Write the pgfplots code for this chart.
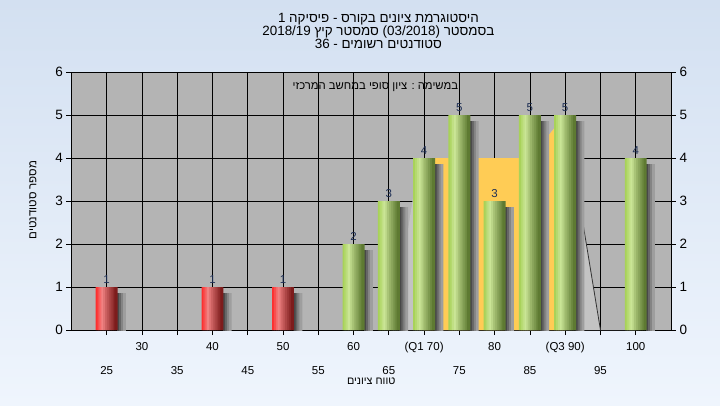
\documentclass[border=0pt]{standalone}
\usepackage{pgfplots}
\pgfplotsset{compat=1.18}
\usepackage{fontspec}
\setmainfont{Liberation Sans}
\newfontfamily\hebfont[Script=Hebrew]{Liberation Sans}
\TeXXeTstate=1

\definecolor{bgtop}{HTML}{D3E0F1}
\definecolor{bgbot}{HTML}{EFF5FD}
\definecolor{plotbg}{HTML}{B4B4B4}
\definecolor{areagray}{HTML}{C3C3C3}
\definecolor{quartile}{HTML}{FFCC55}
\definecolor{gL}{HTML}{A2CF4E}
\definecolor{gH}{HTML}{CAE596}
\definecolor{gD}{HTML}{57732C}
\definecolor{rL}{HTML}{FF2222}
\definecolor{rH}{HTML}{F08282}
\definecolor{rD}{HTML}{761515}
\definecolor{labelcol}{HTML}{1E2F55}
\definecolor{shadowcol}{HTML}{3C3C3C}

% cylinder look: 11 vertical stripes per bar
\colorlet{g0}{gH!15!gL}  \colorlet{r0}{rH!15!rL}
\colorlet{g1}{gH!45!gL}  \colorlet{r1}{rH!45!rL}
\colorlet{g2}{gH!75!gL}  \colorlet{r2}{rH!75!rL}
\colorlet{g3}{gH}        \colorlet{r3}{rH}
\colorlet{g4}{gD!13!gH}  \colorlet{r4}{rD!13!rH}
\colorlet{g5}{gD!29!gH}  \colorlet{r5}{rD!29!rH}
\colorlet{g6}{gD!42!gH}  \colorlet{r6}{rD!42!rH}
\colorlet{g7}{gD!55!gH}  \colorlet{r7}{rD!55!rH}
\colorlet{g8}{gD!67!gH}  \colorlet{r8}{rD!67!rH}
\colorlet{g9}{gD!80!gH}  \colorlet{r9}{rD!80!rH}
\colorlet{g10}{gD!94!gH} \colorlet{r10}{rD!94!rH}
\colorlet{s0}{shadowcol!90!plotbg}
\colorlet{s1}{shadowcol!65!plotbg}
\colorlet{s2}{shadowcol!40!plotbg}
\colorlet{s3}{shadowcol!18!plotbg}

\pgfplotstableread{
x y
25 1
40 1
50 1
}\failing

\pgfplotstableread{
x y
60 2
65 3
70 4
75 5
80 3
85 5
90 5
100 4
}\passing

\pgfplotstableread{
x y
25 1
40 1
50 1
60 2
65 3
70 4
75 5
80 3
85 5
90 5
100 4
}\allbars

\begin{document}
\begin{tikzpicture}[x=1pt,y=1pt]
\fill[top color=bgtop, bottom color=bgbot] (0,0) rectangle (720,405);

\begin{axis}[
  at={(71.4pt,75pt)}, anchor=south west,
  scale only axis, width=599.6pt, height=258pt,
  xmin=20, xmax=105, ymin=0, ymax=6,
  axis background/.style={fill=plotbg},
  xtick={30,40,...,100},
  xticklabels={30,40,50,60,(Q1 70),80,(Q3 90),100},
  extra x ticks={25,35,...,95},
  extra x tick labels={25,35,45,55,65,75,85,95},
  extra x tick style={grid=major, major grid style={black, line width=0.8pt},
     xticklabel style={yshift=-24pt}},
  xticklabel style={yshift=-4pt, font=\fontsize{11.5}{13}\selectfont},
  yticklabel style={font=\fontsize{13.5}{15}\selectfont},
  ytick={0,...,6},
  xtick pos=bottom, ytick pos=left,
  grid=major, major grid style={black, line width=0.8pt},
  tick align=outside, major tick length=5pt,
  tick style={black, line width=0.8pt},
  axis line style={black, line width=0.8pt},
  /pgf/number format/assume math mode=true,
  xlabel={\hebfont\beginR טווח ציונים\endR},
  xlabel style={at={(axis description cs:0.5,0)}, anchor=center, yshift=-51pt,
     font=\fontsize{10.8}{13}\selectfont},
  title={\hebfont\beginR היסטוגרמת ציונים בקורס - פיסיקה \beginL1\endL\endR\\
         \hebfont\beginR בסמסטר \beginL(03/2018)\endL{} סמסטר קיץ \beginL2018/19\endL\endR\\
         \hebfont\beginR סטודנטים רשומים - \beginL36\endL\endR},
  title style={at={(axis description cs:0.512,1)}, anchor=center, yshift=35pt,
     align=center, font=\fontsize{13.4}{13}\selectfont},
]
% shaded band of the frequency polygon, gray outside the quartiles
\addplot[fill=areagray, draw=none] coordinates {
  (65.5,0) (69.3,4) (85,4) (90,5) (95,0) (100,0)
} \closedcycle;
\addplot[fill=quartile, draw=none] coordinates {
  (70,0) (70,4) (85,4) (90,5) (90,0)
} \closedcycle;
\addplot[black!80, line width=0.8pt] coordinates {(90,5) (95,0)};

% bar shadows
\pgfplotsinvokeforeach{0,...,3}{
  \addplot[ybar, bar width=0.4, bar shift={1.69+0.28*#1}, yshift=-6pt,
    draw=none, fill=s#1] table[x=x, y=y] {\allbars};
}
% bars, drawn as overlapping stripes
\pgfplotsinvokeforeach{0,...,10}{
  \addplot[ybar, bar width=0.45, bar shift={(#1-5)*0.2659}, draw=none, fill=r#1]
    table[x=x, y=y] {\failing};
  \addplot[ybar, bar width=0.45, bar shift={(#1-5)*0.2659}, draw=none, fill=g#1]
    table[x=x, y=y] {\passing};
}
% value labels
\addplot[draw=none, nodes near coords,
  nodes near coords style={font=\fontsize{11.5}{13}\selectfont, color=labelcol,
     anchor=south, inner sep=3pt}]
  table[x=x, y=y] {\allbars};

\node[font=\fontsize{11.3}{13}\selectfont] at (rel axis cs:0.507,0.94)
  {\hebfont\beginR במשימה : ציון סופי במחשב המרכזי\endR};
\end{axis}

\begin{axis}[
  at={(71.4pt,75pt)}, anchor=south west,
  scale only axis, width=599.6pt, height=258pt,
  xmin=20, xmax=105, ymin=0, ymax=6,
  axis x line=none, axis y line*=right,
  ytick={0,...,6},
  tick align=outside, major tick length=5pt,
  tick style={black, line width=0.8pt},
  axis line style={black, line width=0.8pt},
  yticklabel style={font=\fontsize{13.5}{15}\selectfont},
  /pgf/number format/assume math mode=true,
]
\addplot[draw=none] coordinates {(20,0) (105,6)};
\end{axis}

% y axis title
\node[rotate=90, font=\fontsize{11.5}{13}\selectfont] at (33,205)
  {\hebfont\beginR מספר סטודנטים\endR};
\end{tikzpicture}
\end{document}
